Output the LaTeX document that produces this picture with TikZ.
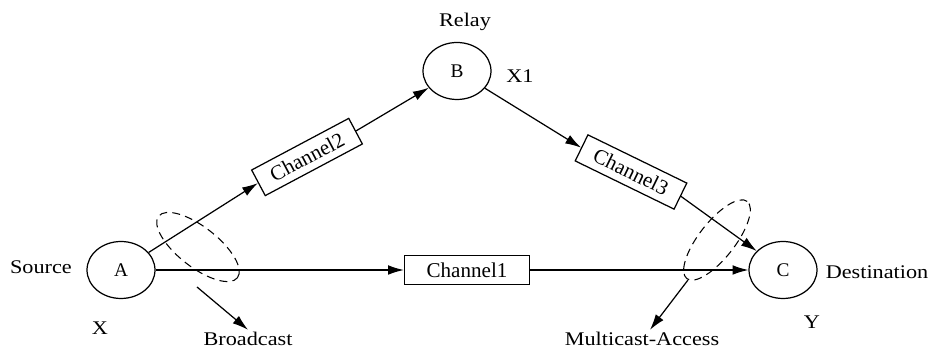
\documentclass[tikz,border=0pt]{standalone}
\usepackage{fontspec}
\setmainfont{Liberation Serif}
\usetikzlibrary{arrows.meta,shapes.geometric,calc}

\begin{document}
\begin{tikzpicture}[x=0.02cm,y=0.02cm,>={Latex[length=9pt,width=5.5pt]},line width=0.7pt,
	station/.style={draw,ellipse,minimum width=1.36cm,minimum height=1.14cm,
		inner sep=0pt,font=\fontsize{11}{13}\selectfont},
	channel/.style={draw,rectangle,minimum width=2.2cm,minimum height=0.58cm,
		inner sep=1pt,font=\fontsize{12}{14}\selectfont},
	lbl/.style={inner sep=1pt,xscale=1.15,font=\fontsize{11}{13}\selectfont},
	group/.style={dashed,dash pattern=on 4.5pt off 3pt,line width=0.6pt}]

\useasboundingbox (0,0) rectangle (930,-350);

% stations
\node[station] (A) at (121,-270) {A};
\node[station] (B) at (457,-71) {B};
\node[station] (C) at (783,-270) {C};

\node[lbl] (source) at (41,-267) {Source};
\node[lbl] (x) at (100,-328) {X};
\node[lbl] (relay) at (465,-22) {Relay};
\node[lbl] (x1) at (520,-76) {X1};
\node[lbl] (dest) at (877,-272) {Destination};
\node[lbl] (y) at (812,-322) {Y};

% channels
\node[channel,minimum width=2.5cm] (ch1) at (467,-270) {Channel1};
\node[channel,rotate=28] (ch2) at (307,-157) {Channel2};
\node[channel,rotate=-26] (ch3) at (631,-172) {Channel3};

\draw[->] (A) -- (ch1.west);
\draw[->] (ch1.east) -- (C);
\draw[->] (A) -- (ch2.west);
\draw[->] (ch2.east) -- (B);
\draw[->] (B) -- (ch3.west);
\draw[->] (ch3.east) -- (C);

% broadcast and multicast regions
\draw[group,rotate around={-38:(198,-247)}] (198,-247) ellipse [x radius=50,y radius=20];
\draw[group,rotate around={52:(717,-240)}] (717,-240) ellipse [x radius=49,y radius=18];

\node[lbl] (bc) at (248,-339) {Broadcast};
\node[lbl] (mac) at (642,-339) {Multicast-Access};

\coordinate (bcfrom) at (197,-287);
\coordinate (macfrom) at (688,-280);
\draw[->] (bcfrom) -- (bc.north);
\draw[->] (macfrom) -- ([xshift=0.16cm]mac.north);

\end{tikzpicture}
\end{document}
